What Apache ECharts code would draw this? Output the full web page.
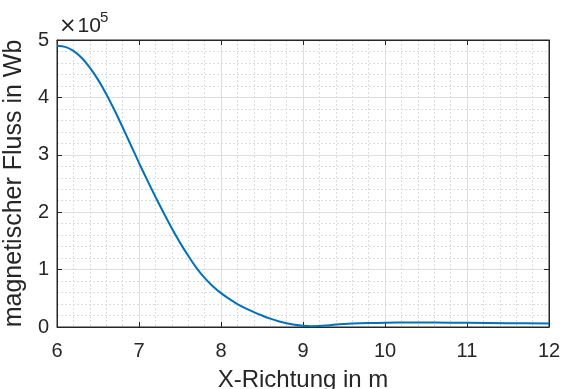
<!DOCTYPE html>
<html>
<head>
<meta charset="utf-8">
<script src="https://cdn.jsdelivr.net/npm/echarts@6/dist/echarts.min.js"></script>
<style>
html,body{margin:0;padding:0;background:#fff;}
#c{width:564px;height:389px;}
</style>
</head>
<body>
<div id="c"></div>
<script>
// X position in m
var xValues = [6.0,6.1,6.2,6.3,6.4,6.5,6.6,6.7,6.8,6.9,7.0,7.1,7.2,7.3,7.4,7.5,7.6,7.7,7.8,7.9,8.0,8.1,8.2,8.3,8.4,8.5,8.6,8.7,8.8,8.9,9.0,9.1,9.2,9.3,9.4,9.5,9.6,9.8,10.0,10.3,10.6,11.0,11.5,12.0];
// magnetic flux in units of 10^5 Wb
var fluxValues = [4.90,4.88,4.81,4.69,4.52,4.31,4.06,3.78,3.48,3.17,2.86,2.56,2.27,1.99,1.72,1.47,1.24,1.03,0.855,0.71,0.59,0.49,0.40,0.325,0.26,0.20,0.145,0.10,0.065,0.04,0.022,0.014,0.016,0.028,0.042,0.053,0.061,0.069,0.074,0.078,0.078,0.073,0.067,0.06];
var xTicks = [6,7,8,9,10,11,12];
var yTicks = [0,1,2,3,4,5];
var exponentText = ['×','10','5'];
var xTitle = 'X-Richtung in m';
var yTitle = 'magnetischer Fluss in Wb';

var FONT = '"Liberation Sans", Arial, Helvetica, sans-serif';
var TXT = '#262626';
var data = xValues.map(function(x,i){return [x, fluxValues[i]];});

var chart = echarts.init(document.getElementById('c'), null, {renderer:'canvas'});
var minorLine = {show:true, lineStyle:{color:'#dcdcdc', width:1, type:[2,2]}};
var majorLine = {show:true, lineStyle:{color:'#dedede', width:1}};
chart.setOption({
  animation:false,
  backgroundColor:'#ffffff',
  title:[
    {text:'{x|' + exponentText[0] + '}{n|' + exponentText[1] + '}', left:59, top:16, padding:0, itemGap:0,
     textStyle:{fontSize:21, fontWeight:'normal', color:TXT, fontFamily:FONT,
       rich:{
         x:{fontSize:21, fontFamily:'"DejaVu Sans", sans-serif', color:TXT, padding:[0,1,0,0]},
         n:{fontSize:21, fontFamily:FONT, color:TXT}
       }}},
    {text:exponentText[2], left:100, top:10, padding:0, itemGap:0,
     textStyle:{fontSize:15, fontWeight:'normal', color:TXT, fontFamily:FONT}}
  ],
  grid:{left:57, right:15, top:40, bottom:62, outerBoundsMode:'none', containLabel:false,
        show:true, borderColor:TXT, borderWidth:1, backgroundColor:'transparent'},
  xAxis:[{
    type:'value', min:xTicks[0], max:xTicks[xTicks.length-1], interval:1, position:'bottom',
    axisLine:{show:true, onZero:false, lineStyle:{color:TXT}},
    axisTick:{show:true, inside:true, length:5, lineStyle:{color:TXT}},
    axisLabel:{show:true, margin:14, color:TXT, fontSize:20, fontFamily:FONT},
    splitLine:majorLine,
    minorTick:{show:false, splitNumber:5},
    minorSplitLine:minorLine,
    name:xTitle, nameLocation:'middle', nameGap:41,
    nameTextStyle:{color:TXT, fontSize:24, fontFamily:FONT}
  },{
    type:'value', min:xTicks[0], max:xTicks[xTicks.length-1], interval:1, position:'top',
    axisLine:{show:true, onZero:false, lineStyle:{color:TXT}},
    axisTick:{show:true, inside:true, length:5, lineStyle:{color:TXT}},
    axisLabel:{show:false}, splitLine:{show:false}
  }],
  yAxis:[{
    type:'value', min:yTicks[0], max:yTicks[yTicks.length-1], interval:1, position:'left',
    axisLine:{show:true, onZero:false, lineStyle:{color:TXT}},
    axisTick:{show:true, inside:true, length:5, lineStyle:{color:TXT}},
    axisLabel:{show:true, margin:8, color:TXT, fontSize:20, fontFamily:FONT},
    splitLine:majorLine,
    minorTick:{show:false, splitNumber:5},
    minorSplitLine:minorLine,
    name:yTitle, nameLocation:'middle', nameGap:24, nameRotate:90,
    nameTextStyle:{color:TXT, fontSize:25, fontFamily:FONT}
  },{
    type:'value', min:yTicks[0], max:yTicks[yTicks.length-1], interval:1, position:'right',
    axisLine:{show:true, onZero:false, lineStyle:{color:TXT}},
    axisTick:{show:true, inside:true, length:5, lineStyle:{color:TXT}},
    axisLabel:{show:false}, splitLine:{show:false}
  }],
  series:[{
    type:'line', data:data, xAxisIndex:0, yAxisIndex:0,
    showSymbol:false, smooth:0.3, clip:true,
    lineStyle:{color:'#0072BD', width:2}
  }]
});
</script>
</body>
</html>
